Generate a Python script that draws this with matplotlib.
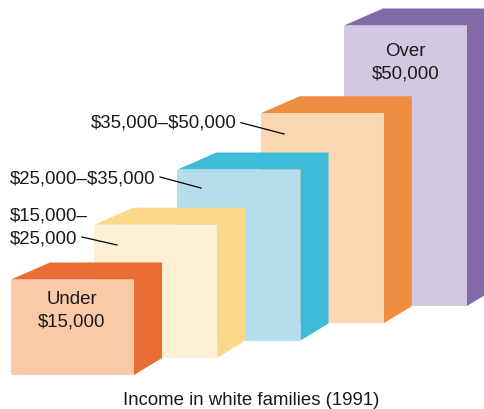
import matplotlib
matplotlib.use("Agg")
import matplotlib.pyplot as plt

plt.rcParams['font.family'] = ['Liberation Sans', 'DejaVu Sans']

categories = ["Under\n$15,000", "$15,000–\n$25,000", "$25,000–$35,000", "$35,000–$50,000", "Over\n$50,000"]
# bar heights (px, there is no value axis)
heights = [95.5, 133, 171, 210, 280.5]
front_colors = ["#FBC9A8", "#FEF0D4", "#B6DDEB", "#FBD6B3", "#D2C8E1"]
side_colors = ["#EB6D36", "#FBD98A", "#3DBBD8", "#EF8E42", "#826AA8"]
caption = "Income in white families (1991)"

W, H = 485, 410
bar_w = 123
step_x = 83.25
step_y = 17.25
x0, y0 = 11, 376
dx_left, dx_right, dy = 39, 28, 17

fig = plt.figure(figsize=(W / 100, H / 100), dpi=100)
ax = fig.add_axes([0, 0, 1, 1])
ax.set_xlim(0, W)
ax.set_ylim(H, 0)
ax.axis("off")

# back bars first so the nearer ones cover them
for i in reversed(range(len(heights))):
    left = x0 + i * step_x
    right = left + bar_w
    bottom = y0 - i * step_y
    top = bottom - heights[i]
    # top and side share a colour, one polygon avoids a seam
    ax.fill([left, left + dx_left, right + dx_right, right + dx_right, right, right],
            [top, top - dy, top - dy, bottom - dy, bottom, top],
            color=side_colors[i], lw=0)
    ax.fill([left, right, right, left],
            [top, top, bottom, bottom], color=front_colors[i], lw=0)

fs = 13.4
txt = dict(fontsize=fs, color="#1a1a1a", va="center", parse_math=False)
ax.text(71.7, 311, categories[0], ha="center", linespacing=1.42, **txt)
ax.text(405.5, 63, categories[4], ha="center", linespacing=1.42, **txt)
ax.text(9.5, 227.5, categories[1], ha="left", linespacing=1.42, **txt)
ax.text(10, 179.5, categories[2], ha="left", **txt)
ax.text(90.5, 123.5, categories[3], ha="left", **txt)
ax.text(251.5, 400.5, caption, ha="center", **txt)

# leader lines
ax.plot([82, 117], [238, 246], color="black", lw=0.9)
ax.plot([160, 201], [178, 189], color="black", lw=0.9)
ax.plot([241, 284], [123.7, 135], color="black", lw=0.9)

fig.savefig("out.png", dpi=100)
